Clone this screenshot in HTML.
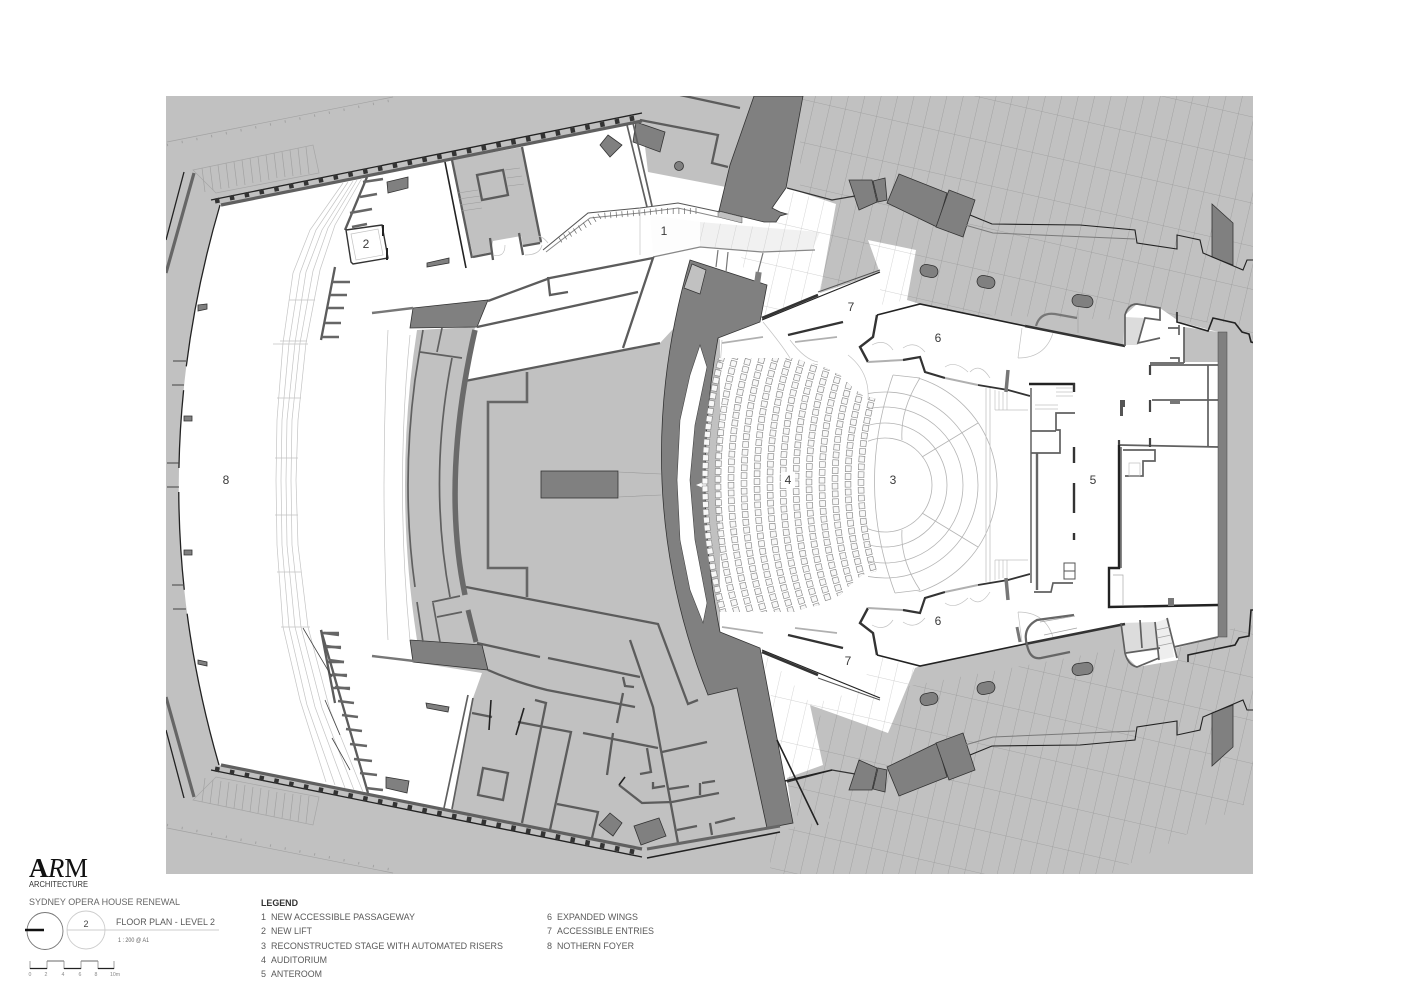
<!DOCTYPE html>
<html><head><meta charset="utf-8"><title>Floor Plan Level 2</title>
<style>
html,body{margin:0;padding:0;background:#fff}
svg{display:block}
text{font-family:"Liberation Sans",sans-serif}
.w{fill:none;stroke:#5c5c5c;stroke-width:2.3;stroke-linejoin:miter}
.t{fill:none;stroke:#606060;stroke-width:1.7}
.k{fill:none;stroke:#222;stroke-width:1.6}
.f{fill:none;stroke:#c2c2c2;stroke-width:.7}
.g{fill:none;stroke:#a2a2a2;stroke-width:.7}
.d{fill:#808080;stroke:#333;stroke-width:.8}
.n{font-size:12px;fill:#3a3a3a;text-anchor:middle}
.l{font-size:9px;fill:#5a5a5a}
</style></head>
<body>
<svg xmlns="http://www.w3.org/2000/svg" width="1415" height="1000" viewBox="0 0 1415 1000">
<defs>
<pattern id="tile" width="16" height="42" patternUnits="userSpaceOnUse" patternTransform="rotate(13)">
<path d="M0,0V42M0,0H16" fill="none" stroke="#9a9a9a" stroke-width=".8"/>
</pattern>
<pattern id="tileW" width="16" height="42" patternUnits="userSpaceOnUse" patternTransform="rotate(13)">
<path d="M0,0V42M0,0H16" fill="none" stroke="#c4c4c4" stroke-width=".7"/>
</pattern>
<clipPath id="frame"><rect x="166" y="96" width="1087" height="778"/></clipPath>
<clipPath id="seatc"><polygon points="700,358 795,358 805,362 820,365 840,375 850,385 862,395 880,400 880,570 862,575 850,585 840,595 820,605 805,608 795,612 700,612"/></clipPath>
<clipPath id="stc"><polygon points="868,380 925,378 1000,420 1000,550 925,592 868,590"/></clipPath>

<g id="mir">
  <path d="M166,273 L194,173" fill="none" stroke="#666" stroke-width="3.2"/>
  <path d="M166,240 L184,172" fill="none" stroke="#222" stroke-width="1.3"/>
  <path d="M221,205 L642,121" fill="none" stroke="#606060" stroke-width="3.2"/>
  <path d="M211,200 L642,113" fill="none" stroke="#222" stroke-width="1.3"/>
  <path d="M215,201 L642,116.5" fill="none" stroke="#333" stroke-width="5" stroke-dasharray="4.5 10.6"/>
  <path d="M193,170 L313,145 L319,173 L216,193Z" fill="none" stroke="#a6a6a6" stroke-width=".7"/>
  <path d="M202,168 L205,192 M210,166 L213,190 M218,165 L221,189 M226,163 L229,188 M234,162 L237,186 M242,160 L245,185 M250,158 L253,183 M258,157 L261,182 M266,155 L269,180 M274,153 L277,178 M282,152 L285,177 M290,150 L293,176 M298,148 L301,175 M306,147 L309,174" class="g"/>
  <path d="M167,142 L393,97" class="g" stroke-width="1"/>
  <path d="M167,145 L393,100" fill="none" stroke="#a2a2a2" stroke-width="2.5" stroke-dasharray="1 14"/>
  <path d="M321,340 L335,267" class="w"/>
  <path d="M322,337 H339 M325,323 H341 M328,308 H344 M330,295 H347 M332,282 H350" fill="none" stroke="#666" stroke-width="2.6"/>
  <polygon points="859,760 877,768 872,790 849,790" class="d"/>
  <polygon points="878,768 887,770 885,792 873,789" class="d"/>
  <polygon points="887,767 937,743 947,777 899,796" class="d"/>
  <polygon points="936,743 963,733 975,770 949,780" class="d"/>
  <polygon points="1212,713 1233,705 1233,747 1212,766" class="d"/>
  <path d="M787,782 L832,770 L855,774" fill="none" stroke="#333" stroke-width="1.2"/>
  <path d="M970,755 L992,746 L1080,745 L1135,740 L1137,727 L1177,721 L1177,735 L1200,730 L1203,717 L1243,700 L1247,710 L1253,710" fill="none" stroke="#222" stroke-width="1.1"/>
  <path d="M965,745 L993,737 L1135,731" fill="none" stroke="#7a7a7a" stroke-width="1"/>
  <rect x="920" y="693" width="18" height="12" rx="6" class="d" transform="rotate(-12 929 699)"/>
  <rect x="977" y="682" width="18" height="12" rx="6" class="d" transform="rotate(-12 986 688)"/>
  <rect x="1072" y="663" width="21" height="12" rx="6" class="d" transform="rotate(-8 1082 669)"/>
  <path d="M843,322 L788,335" fill="none" stroke="#333" stroke-width="2.4"/>
  <path d="M795,342 L837,337 M722,343 L763,337" fill="none" stroke="#b0b0b0" stroke-width="1.8"/>
  <path d="M877,315 L873,337 L860,347 L868,362" fill="none" stroke="#333" stroke-width="2.4"/>
  <path d="M868,362 L903,360" fill="none" stroke="#b0b0b0" stroke-width="2"/>
  <path d="M903,360 L920,357 L925,372 L945,378" fill="none" stroke="#333" stroke-width="2.2"/>
  <path d="M945,378 L978,385" fill="none" stroke="#b0b0b0" stroke-width="2"/>
  <path d="M978,385 L1008,390 L1030,396" fill="none" stroke="#333" stroke-width="1.8"/>
  <path d="M1008,370 L1006,392" fill="none" stroke="#777" stroke-width="3.5"/>
  <path d="M877,315 L920,304 L1025,326" fill="none" stroke="#222" stroke-width="1.6"/>
  <path d="M1025,326 L1125,346" fill="none" stroke="#333" stroke-width="2.6"/>
  <path d="M762,320 L880,272" fill="none" stroke="#222" stroke-width="1.2"/>
  <path d="M762,318 L818,295" fill="none" stroke="#333" stroke-width="2.6"/>
  <path d="M818,292 L880,270" fill="none" stroke="#555" stroke-width="1"/>
  <path d="M872,345 Q885,338 893,350 M903,348 Q915,340 925,352 M945,367 Q955,360 968,372 M970,372 Q980,362 990,378 M1053,333 Q1045,358 1018,358 M1018,358 L1022,328" class="f" stroke="#b0b0b0"/>
  <path d="M995,390 V410 M999,391 V410 M1003,392 V410 M1007,392 V410 M995,410 H1028" class="f"/>
</g>
</defs>

<rect width="1415" height="1000" fill="#fff"/>
<g clip-path="url(#frame)">
<rect x="166" y="96" width="1087" height="778" fill="#c1c1c1"/>
<polygon points="800,96 1253,96 1253,345 1236,323 1125,320 840,310 800,230" fill="url(#tile)"/>
<polygon points="770,835 800,825 845,820 1110,874 770,874" fill="url(#tile)"/>
<polygon points="787,770 830,700 1253,625 1253,800 1110,874 845,820 790,815" fill="url(#tile)"/>

<path d="M220,205 L642,121 L648,172 L726,187 L788,188 L836,204 L820,293 L880,273 L868,240 L916,250 L907,300 L920,304 L1125,346 L1125,315 L1137,304 L1160,308 L1180,322 L1218,332 L1218,637 L1176,648 L1178,660 L1137,667 L1125,655 L1125,624 L1025,644 L920,666 L915,668 L888,733 L810,705 L823,765 L787,778 L793,823 L647,849 L219,765 Q138,485 220,205Z" fill="#fff"/>

<polygon points="778,188 836,204 820,293 765,318 740,260" fill="url(#tileW)"/>
<polygon points="868,240 916,250 907,300 880,305 880,273" fill="url(#tileW)"/>
<polygon points="762,650 812,705 823,765 787,778" fill="url(#tileW)"/>
<polygon points="810,705 888,733 915,668 875,655 860,690" fill="url(#tileW)"/>
<polygon points="700,222 770,228 820,232 812,250 762,252 700,247" fill="#f1f1f1"/>
<polygon points="700,222 770,228 820,232 812,250 762,252 700,247" fill="url(#tileW)"/>
<polygon points="650,215 700,222 700,247 653,253" fill="#fdfdfd"/>

<path d="M417,330 L475,327 L465,381 L660,343 L700,300 L720,340 L720,632 L760,648 L793,823 L647,849 L451,812 L473,698 L482,673 L413,662 L417,640 Q393,485 417,330Z" fill="#c1c1c1"/>
<polygon points="452,160 522,147 542,243 523,246 521,236 493,241 491,252 473,256" fill="#c1c1c1"/>
<polygon points="1184,327 1218,332 1218,362 1184,362" fill="#c1c1c1"/>
<polygon points="1125,317 1145,318 1138,345 1123,345" fill="#dcdcdc"/>
<polygon points="1121,623 1155,622 1159,650 1126,653" fill="#dcdcdc"/>
<polygon points="1154,623 1169,618 1174,657 1160,660" fill="#eee"/>

<polygon points="413,308 488,300 477,327 410,328" class="d"/>
<polygon points="410,640 482,645 488,670 413,662" class="d"/>
<path d="M690,260 L767,285 L760,322 L718,338 Q691,485 720,632 L760,648 L793,823 L767,828 L737,688 L708,695 Q625,485 690,260Z" class="d"/>
<polygon points="692,264 684,288 700,294 706,270" fill="#c1c1c1" stroke="#333" stroke-width=".7"/>
<polygon points="700,345 707,367 695,425 690,480 695,540 707,603 703,623 690,590 680,540 677,480 680,420 690,375" fill="#fff" stroke="#444" stroke-width=".6"/>
<polygon points="706,481 696,485 706,489" fill="#fff"/>

<polygon points="754,96 803,96 786,188 772,208 780,212 787,214 780,216 776,222 764,222 719,211 730,165" class="d"/>
<polygon points="718,211 742,217 742,223 718,217" fill="#c1c1c1" stroke="#555" stroke-width=".5"/>
<polygon points="636,122 665,132 660,152 633,142" class="d"/>
<circle cx="679" cy="166" r="4.5" class="d"/>
<polygon points="608,135 622,145 610,157 600,145" class="d"/>
<polygon points="387,182 408,177 408,188 388,193" class="d"/>
<polygon points="427,263 449,258 449,263 427,267" class="d"/>
<polygon points="386,777 409,781 407,793 386,788" class="d"/>
<polygon points="426,703 449,707 448,712 427,708" class="d"/>
<polygon points="198,305 207,304 207,309 198,311" class="d"/>
<polygon points="184,416 192,416 192,421 184,421" class="d"/>
<polygon points="184,550 192,550 192,555 184,555" class="d"/>
<polygon points="198,660 207,662 207,666 198,664" class="d"/>
<polygon points="610,813 622,823 613,836 599,825" class="d"/>
<polygon points="634,826 659,818 666,836 641,845" class="d"/>
<rect x="541" y="471" width="77" height="27" class="d"/>
<path d="M618,472 L661,474 M618,497 L661,495" fill="none" stroke="#9a9a9a" stroke-width=".6"/>

<use href="#mir"/>
<use href="#mir" transform="translate(0,970) scale(1,-1)"/>

<path d="M220,205 Q138,485 219,765" fill="none" stroke="#222" stroke-width="1.3" stroke-dasharray="165 24 78 24 98 24 220"/>
<path d="M173,361 H186 M172,385 H184 M167,463 H179 M167,487 H179 M172,585 H184 M173,609 H186" fill="none" stroke="#444" stroke-width=".9"/>

<!-- foyer stair band -->
<g fill="none" stroke="#c4c4c4" stroke-width=".7">
<polyline points="343,183 310,230 293,273 283,343 277,420 276,480 277,545 283,627 300,700 326,782"/>
<polyline points="348,182 316,230 300,273 289,343 282,420 281,480 282,545 289,627 307,705 335,785"/>
<polyline points="353,181 322,230 306,272 295,343 287,420 286,480 287,545 295,627 315,707 345,788"/>
<polyline points="357,180 328,228 313,271 300,343 292,420 291,480 292,545 301,627 322,708 354,790"/>
<polyline points="362,178 335,225 320,270 306,343 298,420 296,480 298,545 308,627 330,710 363,792"/>
<path d="M273,344 H308 M277,398 H301 M275,458 H298 M275,515 H298 M277,572 H301 M284,627 H308 M281,627 H310 M280,341 H307 M289,300 H315"/>
</g>

<path d="M367,177 L345,230" class="w"/>
<path d="M363,182 L383,179 M360,197 L377,194 M350,213 L372,209 M352,227 L367,224" fill="none" stroke="#666" stroke-width="2.6"/>
<path d="M346,230 L382,225 L388,258 L353,264 L351,262 Z" fill="#fff" stroke="#333" stroke-width="1.4"/>
<path d="M351,234 L378,229 L383,255 L356,260Z" class="f"/>
<path d="M383,225 V236 M387,248 V260" fill="none" stroke="#222" stroke-width="2"/>
<path d="M321,630 L368,793" class="w"/>
<path d="M324,633 L339,635 M326,646 L341,648 M329,660 L344,662 M332,674 L347,676 M335,687 L350,689 M338,701 L354,703 M342,715 L358,717 M346,729 L362,731 M350,744 L367,746 M354,759 L372,761 M360,773 L377,775 M366,788 L383,790" fill="none" stroke="#666" stroke-width="2.6"/>
<path d="M303,628 L332,677 M325,700 L340,735 M332,738 L350,770" fill="none" stroke="#444" stroke-width=".8"/>

<path d="M372,313 L413,308 M372,656 L414,661" fill="none" stroke="#777" stroke-width="2.4"/>
<path d="M445,162 L466,268" class="k" stroke-width="2"/>
<path d="M452,160 L472,258 M522,147 L541,242" class="w"/>
<path d="M473,257 L493,253 M523,246 L540,243 M490,238 L493,260 M519,233 L523,255" class="w"/>
<path d="M477,175 L503,170 L508,195 L482,200Z" class="w"/>
<path d="M458,193 L478,190 M459,199 L480,196 M460,205 L481,202 M461,211 L482,208 M505,170 L520,168 M507,178 L522,176 M508,186 L524,184" fill="none" stroke="#9a9a9a" stroke-width=".6"/>
<path d="M627,125 L647,207 M633,123 L652,206" class="t"/>
<path d="M548,243 Q540,232 528,238 M493,255 Q505,258 505,245 M525,255 Q540,255 542,245" class="f"/>
<path d="M543,250 L588,213 L640,208 L678,203 L720,212" fill="none" stroke="#555" stroke-width="1.1"/>
<path d="M546,252 L590,218 L640,213 L678,208 L718,217" fill="none" stroke="#888" stroke-width="1"/>
<path d="M560,240 L600,216 L660,211 L700,211" fill="none" stroke="#666" stroke-width="6" stroke-dasharray=".7 5"/>
<path d="M653,257 L700,247 L762,252 L815,250" fill="none" stroke="#888" stroke-width="1.3"/>
<path d="M640,208 V255" class="f"/>
<path d="M718,250 L716,267 M728,252 L726,272 M763,253 L758,272" fill="none" stroke="#777" stroke-width="1.2"/>
<rect x="755" y="272" width="6" height="11" fill="#808080" transform="rotate(8 758 277)"/>

<path d="M488,301 L550,278 L653,258 L623,348" class="w"/>
<path d="M477,327 L638,292" class="w"/>
<path d="M465,381 L660,343" class="w"/>
<path d="M548,277 L550,295 L568,292" class="w"/>
<path d="M527,372 V402 H488 V568 H527 V597" fill="none" stroke="#666" stroke-width="2.6"/>
<path d="M466,587 L658,624 L688,704 L698,700" class="w"/>
<path d="M475,330 Q441,480 465,595" fill="none" stroke="#6a6a6a" stroke-width="5.5"/>
<path d="M452,358 Q428,480 450,597" class="t" stroke-width="2.4"/>
<path d="M423,330 L415,380 Q401,487 415,587" class="t" stroke-width="2.6"/>
<path d="M420,352 L462,358 M442,328 L437,352 M432,602 L460,596 M433,603 L440,642 M437,617 L462,612 M417,602 L423,642" class="t"/>
<path d="M468,610 L476,642" fill="none" stroke="#666" stroke-width="5"/>
<path d="M388,330 Q380,485 388,640 M410,335 Q395,485 410,640" class="f"/>

<path d="M477,643 L540,657 M548,658 L640,677" class="w"/>
<path d="M488,670 Q515,682 547,690 L635,707" class="w"/>
<path d="M630,640 L653,707 L678,843" class="w"/>
<path d="M623,677 L625,686 L634,687 M623,693 L617,723" class="w"/>
<path d="M662,752 L707,742" class="w"/>
<path d="M583,733 L658,748 M613,733 L607,775 M647,748 L651,772 L640,774" class="w"/>
<path d="M444,808 L468,695 M452,809 L473,698" class="t"/>
<path d="M472,713 L492,717 M518,722 L571,732 L550,830 M535,700 L546,703 L522,823 M557,804 L598,812 L592,838" class="w"/>
<path d="M491,700 L489,730 M524,708 L516,735" class="k" stroke-width="2"/>
<path d="M483,768 L508,773 L503,800 L478,795Z" class="w"/>
<path d="M619,785 L642,803 L672,802 L719,793 M653,782 L653,788 L665,786 M669,789 L689,786 M700,783 L700,795 M702,783 L715,781 M677,830 L697,826 M710,823 L712,835 M715,823 L735,818" class="w"/>
<path d="M619,785 L625,777" class="k"/>
<path d="M647,849 L780,826" fill="none" stroke="#666" stroke-width="3"/>
<path d="M647,858 L780,832" class="k" stroke-width="1.2"/>
<path d="M777,740 L818,825" class="k" stroke-width=".8"/>
<path d="M785,781 L832,770" class="k" stroke-width="1.1"/>

<path d="M640,120 L718,135 L712,163 L728,167 M680,95 L740,108" class="w"/>

<path d="M763,322 Q782,345 790,358 M722,340 L712,480 M790,340 Q805,360 818,362 M848,355 Q870,372 868,400" class="f"/>

<g clip-path="url(#seatc)" fill="none">
<g stroke="#868686" stroke-width="6.4" stroke-dasharray="6.4 1.4">
<circle cx="1180" cy="482" r="475"/><circle cx="1180" cy="482" r="462"/><circle cx="1180" cy="482" r="449"/><circle cx="1180" cy="482" r="436"/><circle cx="1180" cy="482" r="423"/><circle cx="1180" cy="482" r="410"/><circle cx="1180" cy="482" r="397"/><circle cx="1180" cy="482" r="384"/><circle cx="1180" cy="482" r="371"/><circle cx="1180" cy="482" r="358"/><circle cx="1180" cy="482" r="345"/><circle cx="1180" cy="482" r="332"/><circle cx="1180" cy="482" r="319"/>
</g>
<g stroke="#f8f8f8" stroke-width="5.1" stroke-dasharray="5.2 2.6" stroke-dashoffset="-.6">
<circle cx="1180" cy="482" r="475"/><circle cx="1180" cy="482" r="462"/><circle cx="1180" cy="482" r="449"/><circle cx="1180" cy="482" r="436"/><circle cx="1180" cy="482" r="423"/><circle cx="1180" cy="482" r="410"/><circle cx="1180" cy="482" r="397"/><circle cx="1180" cy="482" r="384"/><circle cx="1180" cy="482" r="371"/><circle cx="1180" cy="482" r="358"/><circle cx="1180" cy="482" r="345"/><circle cx="1180" cy="482" r="332"/><circle cx="1180" cy="482" r="319"/>
</g>
</g>
<rect x="781" y="472" width="14" height="16" fill="#fff"/>

<g clip-path="url(#stc)" fill="none" stroke="#b4b4b4" stroke-width=".8">
<circle cx="885" cy="485" r="47"/><circle cx="885" cy="485" r="62"/><circle cx="885" cy="485" r="78"/><circle cx="885" cy="485" r="93"/><circle cx="885" cy="485" r="112"/>
</g>
<path d="M893,375 Q855,485 895,593" fill="none" stroke="#b4b4b4" stroke-width=".8"/>
<path d="M893,375 L920,378 M895,593 L920,590 M920,378 Q900,410 902,440 M920,590 Q900,560 902,530 M922,457 L978,423 M922,513 L978,547" fill="none" stroke="#b4b4b4" stroke-width=".8"/>
<path d="M986,388 V582 M990,388 V582" fill="none" stroke="#c4c4c4" stroke-width=".8"/>

<path d="M1029,384 H1075" fill="none" stroke="#222" stroke-width="2.6"/>
<path d="M1031,388 V583" fill="none" stroke="#888" stroke-width="2"/>
<path d="M1037,453 V590" fill="none" stroke="#666" stroke-width="2.4"/>
<path d="M1031,453 H1060 V430 H1056 V413 H1075 M1031,431 H1056" class="t"/>
<path d="M1034,592 H1051 L1053,583 H1073" class="t"/>
<path d="M1074,383 V392 M1074,447 V463 M1074,483 V513 M1074,533 V540" fill="none" stroke="#333" stroke-width="2.4"/>
<rect x="1064" y="563" width="11" height="8" fill="#fff" stroke="#555"/><rect x="1064" y="571" width="11" height="8" fill="#fff" stroke="#555"/>
<path d="M1035,405 H1058 M1035,409 H1058 M1056,388 H1073 M1056,392 H1073 M1056,396 H1073" class="f"/>
<path d="M1150,365 H1218 M1152,400 H1218 M1119,445 L1218,447 M1208,365 V447" class="t" stroke-width="2.2"/>
<path d="M1150,365 V375 M1150,400 V412 M1150,438 V447 M1119,440 V445" fill="none" stroke="#444" stroke-width="2.2"/>
<path d="M1120,400 H1125 V407 H1123 V416 H1120Z" fill="#555"/>
<rect x="1170" y="400" width="10" height="4" fill="#777"/>
<path d="M1119,445 V568 H1109 V607 L1218,605" fill="none" stroke="#222" stroke-width="2.4"/>
<path d="M1121,447 V568" fill="none" stroke="#555" stroke-width="1.4"/>
<path d="M1113,575 H1123 V605" fill="none" stroke="#aaa" stroke-width=".7"/>
<path d="M1123,450 H1155 V461 H1143 V476 H1125" class="t"/>
<path d="M1129,463 H1140 V476 H1129Z" class="f"/>
<rect x="1218" y="332" width="9" height="305" fill="#808080" stroke="#444" stroke-width=".5"/>
<rect x="1168" y="598" width="6" height="8" fill="#777"/>
<path d="M1184,327 V363 M1150,363 H1184" class="t"/>
<path d="M1125,346 L1125,315 Q1128,304 1137,304 L1160,308 L1160,320 L1145,318 L1138,343 L1160,338 M1179,325 V335 M1170,358 L1179,358 V362 M1168,328 H1179" class="t"/>
<path d="M1177,312 V322 L1208,331 L1213,318 L1235,323 L1242,332 L1249,334 L1251,342 L1259,344" class="k" stroke-width="1.3"/>
<path d="M1188,662 L1188,655 L1235,645 L1239,638 L1249,636 L1251,610 L1259,610" class="k" stroke-width="1.3"/>
<path d="M1121,623 L1125,653 Q1128,665 1137,667 L1159,658 M1140,620 L1142,648 M1155,622 L1159,660 M1126,653 L1160,648 M1167,618 L1177,658" class="t"/>
<path d="M1156,630 L1170,627 M1157,638 L1171,635 M1158,646 L1172,643" class="g"/>
<path d="M1174,647 L1218,637" class="t"/>
<path d="M1036,326 Q1040,312 1055,314 L1077,318" fill="none" stroke="#777" stroke-width="2.2"/>
<path d="M1078,310 V333" class="g"/>
<path d="M1074,615 L1037,620 Q1022,628 1027,645 Q1030,660 1041,658 L1070,652" fill="none" stroke="#666" stroke-width="2.2"/>
<path d="M1040,622 L1075,616 M1044,635 L1077,628" class="g"/>
<path d="M1017,627 L1020,642" fill="none" stroke="#777" stroke-width="3"/>
</g>

<text x="664" y="235" class="n">1</text>
<text x="366" y="248" class="n">2</text>
<text x="893" y="484" class="n">3</text>
<text x="788" y="484" class="n">4</text>
<text x="1093" y="484" class="n">5</text>
<text x="938" y="342" class="n">6</text>
<text x="938" y="625" class="n">6</text>
<text x="851" y="311" class="n">7</text>
<text x="848" y="665" class="n">7</text>
<text x="226" y="484" class="n">8</text>

<text x="29" y="877" font-size="27" style="font-family:'Liberation Serif',serif" fill="#111" textLength="59" lengthAdjust="spacingAndGlyphs"><tspan font-weight="bold">A</tspan><tspan font-style="italic">R</tspan>M</text>
<text x="29" y="887" font-size="8" fill="#333" textLength="59" lengthAdjust="spacingAndGlyphs">ARCHITECTURE</text>
<text x="29" y="905" class="l" style="fill:#666" textLength="151" lengthAdjust="spacingAndGlyphs">SYDNEY OPERA HOUSE RENEWAL</text>
<ellipse cx="45" cy="931" rx="18" ry="18.5" fill="none" stroke="#777" stroke-width=".9"/>
<path d="M25,930 H44" stroke="#111" stroke-width="2.4"/>
<ellipse cx="86" cy="930" rx="19" ry="19" fill="none" stroke="#ccc" stroke-width=".9"/>
<path d="M67,930 H219" stroke="#ccc" stroke-width=".9"/>
<text x="86" y="927" font-size="9" fill="#444" text-anchor="middle">2</text>
<text x="116" y="925" class="l" textLength="99" lengthAdjust="spacingAndGlyphs">FLOOR PLAN - LEVEL 2</text>
<text x="118" y="942" font-size="6" fill="#666" textLength="31" lengthAdjust="spacingAndGlyphs">1 : 200 @ A1</text>
<path d="M30,961 V969 M47,961 V969 M64,961 V969 M81,961 V969 M98,961 V969 M114,961 V969" stroke="#777" stroke-width=".7"/>
<path d="M30,968.5 H47 M64,968.5 H81 M98,968.5 H114" stroke="#222" stroke-width="1.3"/>
<path d="M47,961 H64 M81,961 H98" stroke="#888" stroke-width="1.3"/>
<g font-size="5.2" fill="#888" text-anchor="middle">
<text x="30" y="976">0</text><text x="46" y="976">2</text><text x="63" y="976">4</text><text x="80" y="976">6</text><text x="96" y="976">8</text><text x="115" y="976">10m</text>
</g>

<text x="261" y="906" font-size="9" font-weight="bold" fill="#333" textLength="37" lengthAdjust="spacingAndGlyphs">LEGEND</text>
<text x="261" y="920" class="l">1</text><text x="271" y="920" class="l" textLength="144" lengthAdjust="spacingAndGlyphs">NEW ACCESSIBLE PASSAGEWAY</text>
<text x="261" y="934" class="l">2</text><text x="271" y="934" class="l" textLength="41" lengthAdjust="spacingAndGlyphs">NEW LIFT</text>
<text x="261" y="949" class="l">3</text><text x="271" y="949" class="l" textLength="232" lengthAdjust="spacingAndGlyphs">RECONSTRUCTED STAGE WITH AUTOMATED RISERS</text>
<text x="261" y="963" class="l">4</text><text x="271" y="963" class="l" textLength="56" lengthAdjust="spacingAndGlyphs">AUDITORIUM</text>
<text x="261" y="977" class="l">5</text><text x="271" y="977" class="l" textLength="51" lengthAdjust="spacingAndGlyphs">ANTEROOM</text>
<text x="547" y="920" class="l">6</text><text x="557" y="920" class="l" textLength="81" lengthAdjust="spacingAndGlyphs">EXPANDED WINGS</text>
<text x="547" y="934" class="l">7</text><text x="557" y="934" class="l" textLength="97" lengthAdjust="spacingAndGlyphs">ACCESSIBLE ENTRIES</text>
<text x="547" y="949" class="l">8</text><text x="557" y="949" class="l" textLength="77" lengthAdjust="spacingAndGlyphs">NOTHERN FOYER</text>
</svg>
</body></html>
